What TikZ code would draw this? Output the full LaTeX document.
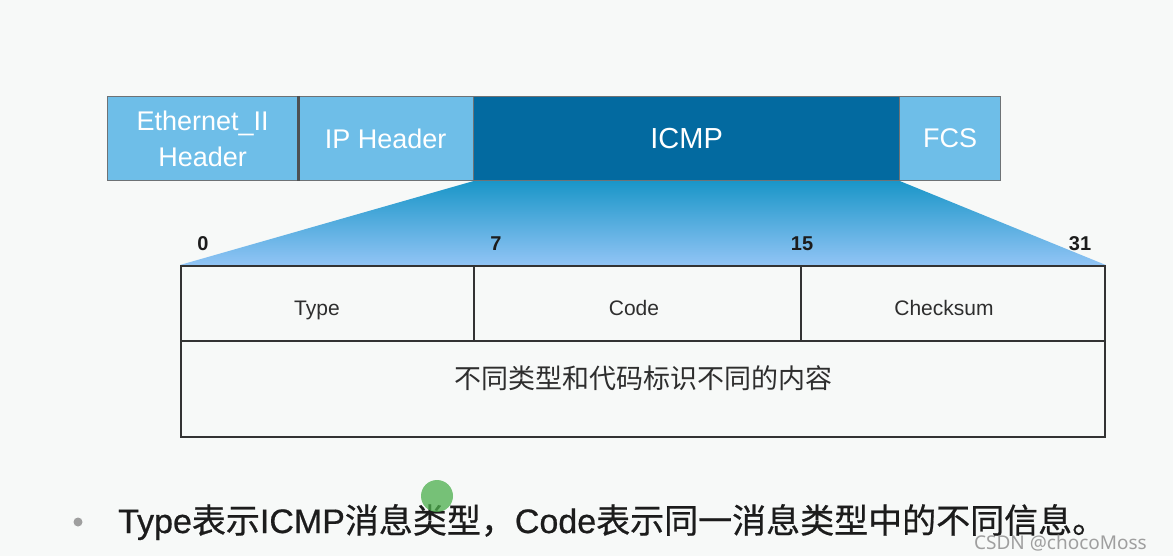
\documentclass[tikz,border=0pt]{standalone}
\usepackage{fontspec}
\setmainfont{Liberation Sans}
\newfontfamily\cjk{Noto Sans CJK SC}
\newfontfamily\cjkb[FakeBold=0.6]{Noto Sans CJK SC}
\newfontfamily\latb[FakeBold=0.6]{Liberation Sans}
\newfontfamily\wmfont{Noto Sans}
\usetikzlibrary{positioning}
\definecolor{bgc}{HTML}{F7F9F8}
\definecolor{lblue}{HTML}{6EBEE8}
\definecolor{dblue}{HTML}{036AA0}
\definecolor{grtop}{HTML}{1A96C8}
\definecolor{grbot}{HTML}{91C4F5}
\definecolor{segline}{HTML}{6E7275}
\definecolor{tline}{HTML}{333333}
\definecolor{ttext}{HTML}{2E2E2E}
\definecolor{btext}{HTML}{1C1C1C}
\pgfdeclarelayer{background}
\pgfsetlayers{background,main}
\tikzset{
  seg/.style={draw=segline, line width=1.2pt, anchor=north west, minimum height=84pt,
    inner sep=0pt, text=white, font=\fontsize{27}{36}\selectfont, align=center},
  cell/.style={draw=tline, line width=1.8pt, anchor=north west, inner sep=0pt},
  celltext/.style={text=ttext, anchor=base, inner sep=0pt, font=\fontsize{21}{24}\selectfont},
  bitnum/.style={text=btext, font=\bfseries\fontsize{20}{22}\selectfont},
}
\begin{document}
\begin{tikzpicture}[x=1pt,y=-1pt]
\begin{pgfonlayer}{background}
\fill[bgc] (0,0) rectangle (1173,556);
\end{pgfonlayer}
\useasboundingbox (0,0) rectangle (1173,556);
% top bar
\node[seg, fill=lblue, minimum width=190pt] (eth) at (107,96) {Ethernet\_II\\Header};
\node[seg, fill=lblue, minimum width=176pt] (ip) at (297,96) {IP Header};
\node[seg, fill=dblue, minimum width=426pt, font=\fontsize{29}{32}\selectfont] (icmp) at (473,96) {ICMP};
\node[seg, fill=lblue, minimum width=101pt] (fcs) at (899,96) {FCS};
\draw[line width=2.6pt, draw=segline!70!black] (eth.north east) -- (eth.south east);
% table
\node[cell, minimum width=293pt, minimum height=75pt] (typ) at (180,265) {};
\node[cell, minimum width=327pt, minimum height=75pt] (cod) at (473,265) {};
\node[cell, minimum width=304pt, minimum height=75pt] (cks) at (800,265) {};
\node[cell, minimum width=924pt, minimum height=96pt] (body) at (180,340) {};
\node[celltext] (typt) at (317,315) {Type};
\node[celltext] (codt) at (634,315) {Code};
\node[celltext] (ckst) at (944,315) {Checksum};
\node[text=ttext, font=\cjk\fontsize{27}{30}\selectfont] (bodyt) at (643,378) {不同类型和代码标识不同的内容};
% gradient zoom
\begin{pgfonlayer}{background}
\shade[top color=grtop, bottom color=grbot] (icmp.south west) -- (icmp.south east) -- (cks.north east) -- (typ.north west) -- cycle;
\end{pgfonlayer}
% bit numbers
\node[bitnum] (b0) at (203,244) {0};
\node[bitnum] (b7) at (496,244) {7};
\node[bitnum] (b15) at (802,244) {15};
\node[bitnum] (b31) at (1080,244) {31};
% bullet line
\node[circle, fill=gray!75, minimum size=9pt, inner sep=0pt] (bul) at (78,522) {};
\node[anchor=base west, inner sep=0pt, text=btext, font=\latb\fontsize{34}{38}\selectfont] (line) at (118,533)
  {Type{\cjkb 表示}ICMP{\cjkb 消息类型，}Code{\cjkb 表示同一消息类型中的不同信息。}};
% cursor mark
\node[circle, fill=green!55!black!70, opacity=0.75, minimum size=32pt, inner sep=0pt] (cur) at (437,496) {};
% watermark
\node[anchor=east, inner sep=0pt, text=gray!75, font=\wmfont\fontsize{19}{22}\selectfont] (wm) at (1147,543) {CSDN @chocoMoss};
\end{tikzpicture}
\end{document}
